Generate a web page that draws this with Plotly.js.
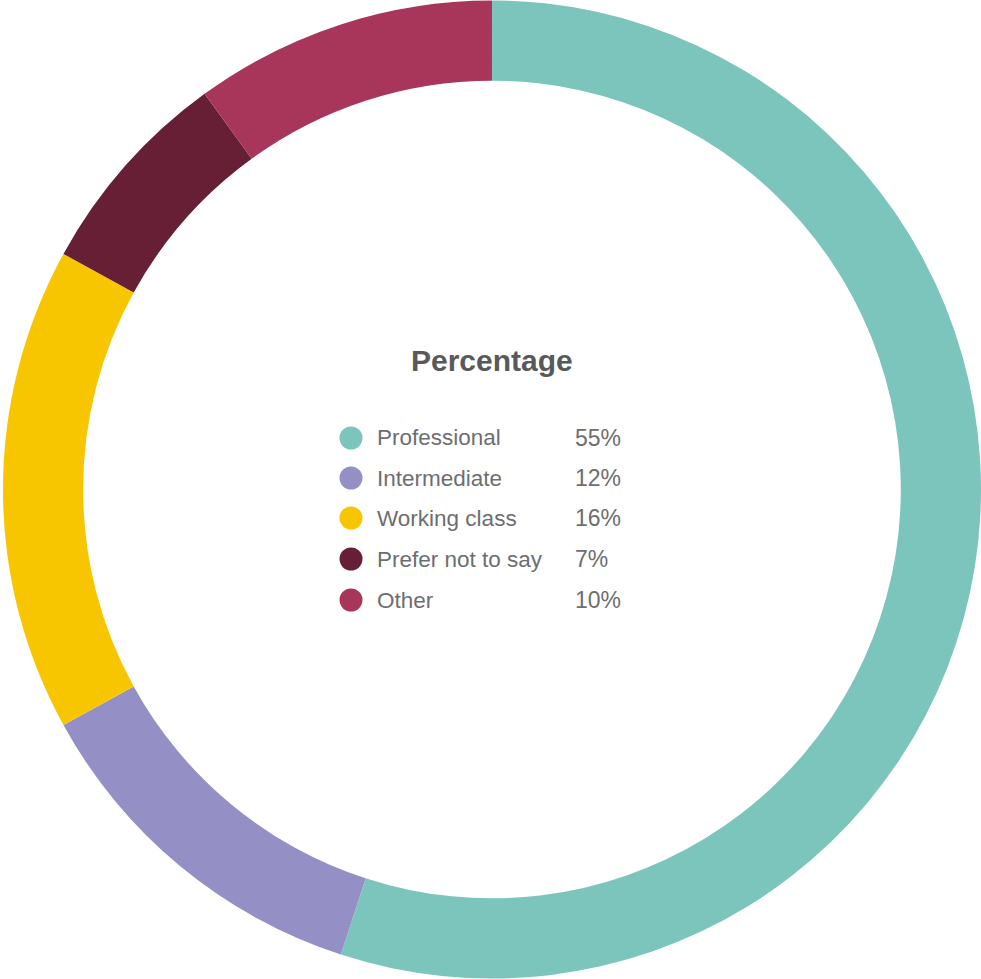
<!DOCTYPE html>
<html>
<head>
<meta charset="utf-8">
<script src="https://cdn.plot.ly/plotly-3.0.1.min.js"></script>
<style>html,body{margin:0;padding:0;background:#fff;}#chart{width:981px;height:979px;}</style>
</head>
<body>
<div id="chart"></div>
<script>
const categories = ["Professional", "Intermediate", "Working class", "Prefer not to say", "Other"];
const values = [55, 12, 16, 7, 10];
const colors = ["#7cc5bd", "#9490c6", "#f8c600", "#661f34", "#a8365b"];
const legendTitle = "Percentage";

const trace = {
  type: "pie",
  labels: categories,
  values: values,
  hole: 0.836,
  sort: false,
  direction: "clockwise",
  rotation: 0,
  marker: {colors: colors, line: {width: 0}},
  textinfo: "none",
  hoverinfo: "label+percent",
  showlegend: false,
  domain: {x: [0.003, 1], y: [0, 1]}
};

const W = 981, H = 979;
const px = x => x / W;
const py = y => 1 - y / H;

const annotations = [{
  text: "<b>" + legendTitle + "</b>",
  x: px(492), y: py(360), xref: "paper", yref: "paper",
  xanchor: "center", yanchor: "middle", showarrow: false,
  font: {family: "Liberation Sans, Arial, sans-serif", size: 30, color: "#58595b"}
}];
const shapes = [];
const rowY = [438, 478, 518, 559, 600];
categories.forEach((c, i) => {
  const y = rowY[i];
  shapes.push({
    type: "circle", xref: "paper", yref: "paper",
    x0: px(351 - 11.5), x1: px(351 + 11.5), y0: py(y + 11.5), y1: py(y - 11.5),
    fillcolor: colors[i], line: {width: 0}
  });
  annotations.push({
    text: c, x: px(375), y: py(y), xref: "paper", yref: "paper",
    xanchor: "left", yanchor: "middle", showarrow: false,
    font: {family: "Liberation Sans, Arial, sans-serif", size: 22.5, color: "#6d6e71"}
  });
  annotations.push({
    text: values[i] + "%", x: px(573), y: py(y), xref: "paper", yref: "paper",
    xanchor: "left", yanchor: "middle", showarrow: false,
    font: {family: "Liberation Sans, Arial, sans-serif", size: 23, color: "#6d6e71"}
  });
});

const layout = {
  width: W, height: H,
  margin: {l: 0, r: 0, t: 0, b: 0},
  paper_bgcolor: "#ffffff",
  showlegend: false,
  annotations: annotations,
  shapes: shapes
};

Plotly.newPlot("chart", [trace], layout, {displayModeBar: false, staticPlot: true});
</script>
</body>
</html>
